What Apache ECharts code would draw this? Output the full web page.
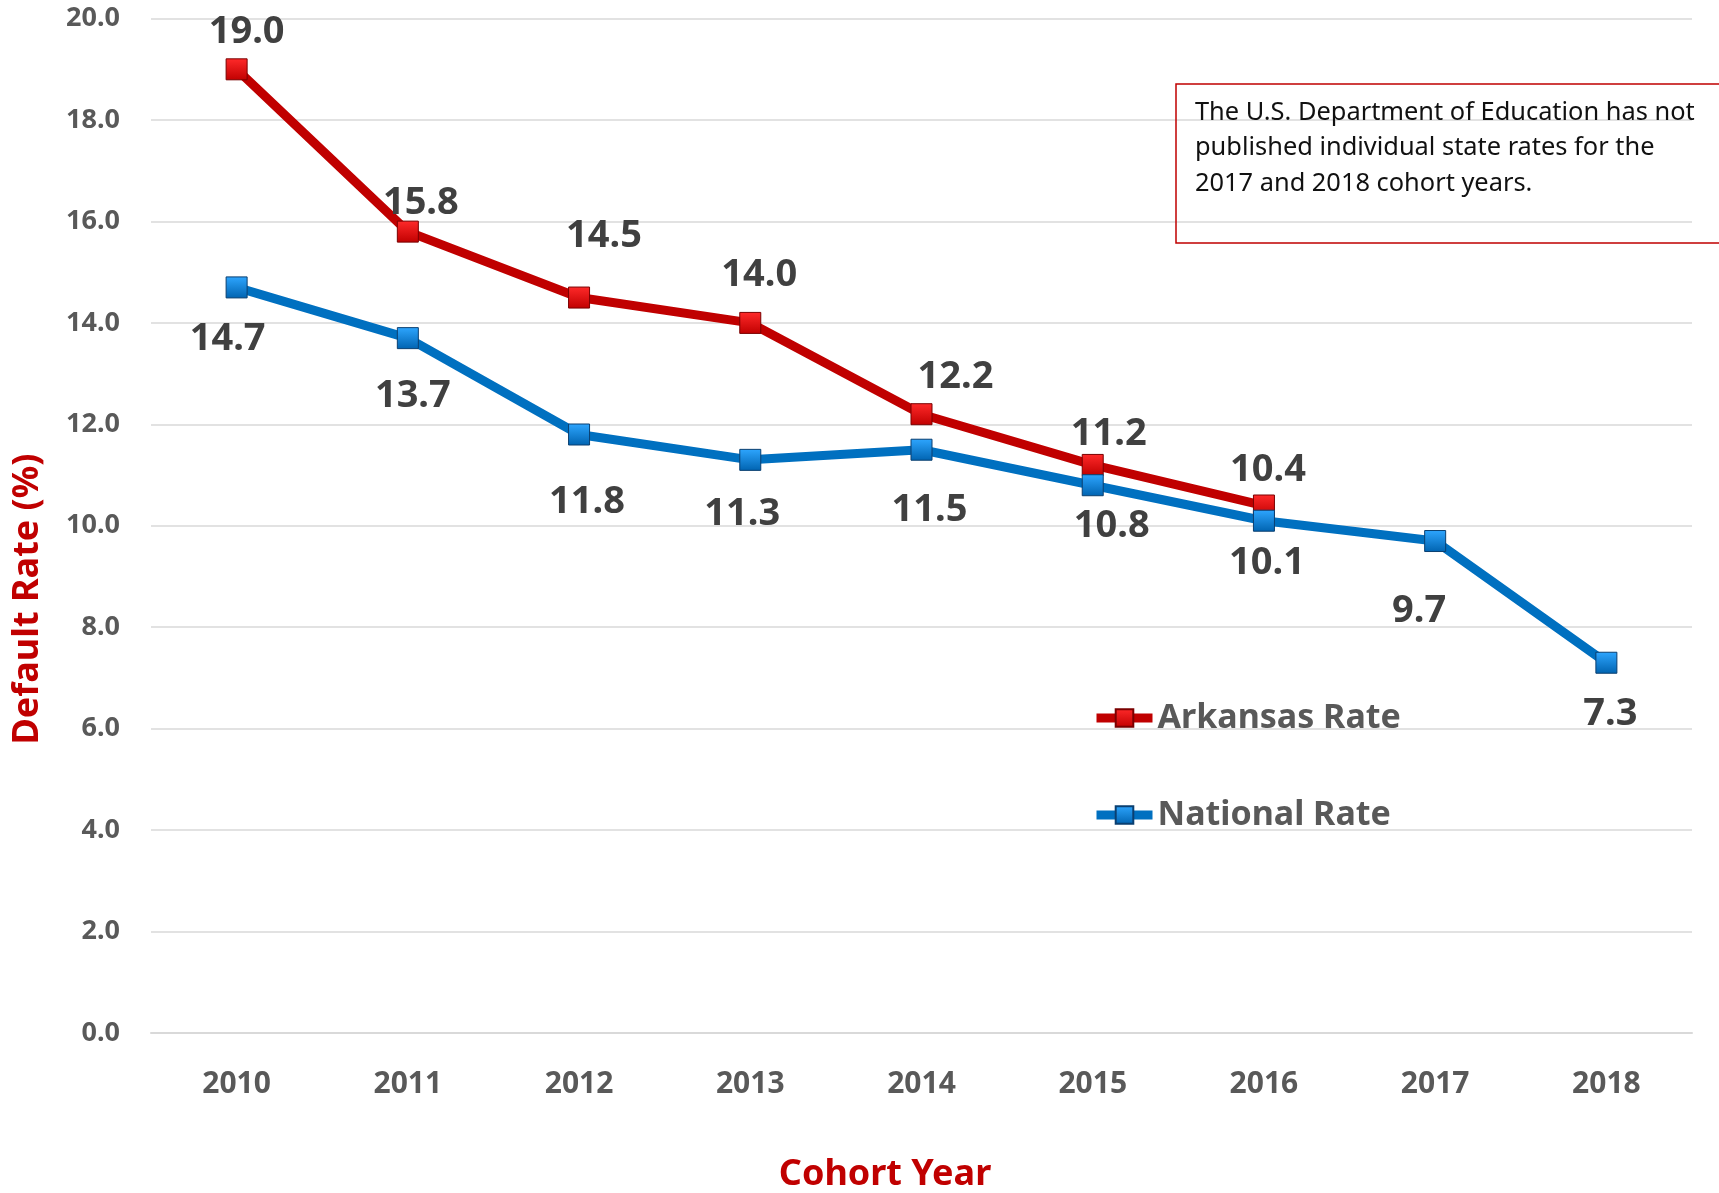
<!DOCTYPE html>
<html>
<head>
<meta charset="utf-8">
<script src="https://cdn.jsdelivr.net/npm/echarts@6/dist/echarts.min.js"></script>
<style>
  html, body { margin: 0; padding: 0; background: #fff; }
  #chart { width: 1719px; height: 1193px; }
</style>
</head>
<body>
<div id="chart"></div>
<script>
const years = ['2010', '2011', '2012', '2013', '2014', '2015', '2016', '2017', '2018'];
const arkansasRate = [19.0, 15.8, 14.5, 14.0, 12.2, 11.2, 10.4, null, null];
const nationalRate = [14.7, 13.7, 11.8, 11.3, 11.5, 10.8, 10.1, 9.7, 7.3];
const noteText = 'The U.S. Department of Education has not\npublished individual state rates for the\n2017 and 2018 cohort years.';

// label nudges, px relative to each marker
const arkOffsets = [[10, -37], [13, -28], [25, -61], [9, -48], [34, -37], [16, -31], [4, -35], [0, 0], [0, 0]];
const natOffsets = [[-9, 52], [5, 58], [8, 68], [-8, 54], [8, 60], [19, 41], [3, 42], [-16, 70], [4, 51]];

const font = '"Noto Sans", "Open Sans", sans-serif';
const red = '#c00000';
const blue = '#0070c0';

function withOffsets(values, offsets) {
  return values.map((v, i) => ({ value: v, label: { offset: offsets[i] } }));
}

const chart = echarts.init(document.getElementById('chart'), null, { renderer: 'canvas' });

const option = {
  animation: false,
  backgroundColor: '#fff',
  textStyle: { fontFamily: font },
  grid: { left: 151, right: 27, top: 18.6, bottom: 160 },
  legend: {
    orient: 'vertical',
    left: 1092,
    top: 701,
    padding: 0,
    itemGap: 63,
    itemWidth: 56,
    itemHeight: 22,
    lineStyle: { width: 9 },
    textStyle: { color: '#595959', fontSize: 34, fontWeight: 'bold', fontFamily: font },
    data: ['Arkansas Rate', 'National Rate']
  },
  xAxis: {
    type: 'category',
    data: years,
    boundaryGap: true,
    axisLine: { show: true, lineStyle: { color: '#d9d9d9', width: 2 } },
    axisTick: { show: false },
    axisLabel: { color: '#595959', fontSize: 30, fontWeight: 'bold', margin: 36, fontFamily: font }
  },
  yAxis: {
    type: 'value',
    min: 0,
    max: 20,
    interval: 2,
    axisLine: { show: false },
    axisTick: { show: false },
    splitLine: { lineStyle: { color: '#d9d9d9', width: 1.5 } },
    axisLabel: {
      color: '#595959', fontSize: 27, fontWeight: 'bold', margin: 31, fontFamily: font,
      formatter: v => v.toFixed(1)
    }
  },
  series: [
    {
      name: 'Arkansas Rate',
      type: 'line',
      data: withOffsets(arkansasRate, arkOffsets),
      symbol: 'rect',
      symbolSize: 21,
      lineStyle: { color: red, width: 9 },
      itemStyle: {
        color: new echarts.graphic.LinearGradient(0, 0, 0, 1, [
          { offset: 0, color: '#ff2a2a' },
          { offset: 1, color: '#c00000' }
        ]),
        borderColor: '#7a0000',
        borderWidth: 1
      },
      label: {
        show: true,
        position: 'inside',
        color: '#404040',
        fontSize: 38,
        fontWeight: 'bold',
        fontFamily: font,
        formatter: p => p.value == null ? '' : Number(p.value).toFixed(1)
      }
    },
    {
      name: 'National Rate',
      type: 'line',
      data: withOffsets(nationalRate, natOffsets),
      symbol: 'rect',
      symbolSize: 21,
      lineStyle: { color: blue, width: 9 },
      itemStyle: {
        color: new echarts.graphic.LinearGradient(0, 0, 0, 1, [
          { offset: 0, color: '#2ea6ff' },
          { offset: 1, color: '#0063b0' }
        ]),
        borderColor: '#0a3f70',
        borderWidth: 1
      },
      label: {
        show: true,
        position: 'inside',
        color: '#404040',
        fontSize: 38,
        fontWeight: 'bold',
        fontFamily: font,
        formatter: p => Number(p.value).toFixed(1)
      }
    }
  ],
  graphic: [
    {
      type: 'rect',
      shape: { x: 1176, y: 84, width: 600, height: 159 },
      style: { fill: 'none', stroke: red, lineWidth: 1.5 },
      z: 10
    },
    {
      type: 'text',
      x: 1195,
      y: 95,
      style: {
        text: noteText,
        fill: '#111',
        font: '25.4px ' + font,
        lineHeight: 35.5
      },
      z: 10
    },
    {
      type: 'text',
      x: 28,
      y: 599,
      rotation: Math.PI / 2,
      style: {
        text: 'Default Rate (%)',
        fill: red,
        font: 'bold 36px ' + font,
        align: 'center',
        verticalAlign: 'middle'
      }
    },
    {
      type: 'text',
      x: 885,
      y: 1175,
      style: {
        text: 'Cohort Year',
        fill: red,
        font: 'bold 36px ' + font,
        align: 'center',
        verticalAlign: 'middle'
      }
    }
  ]
};

chart.setOption(option);
window.addEventListener('resize', () => chart.resize());
</script>
</body>
</html>
